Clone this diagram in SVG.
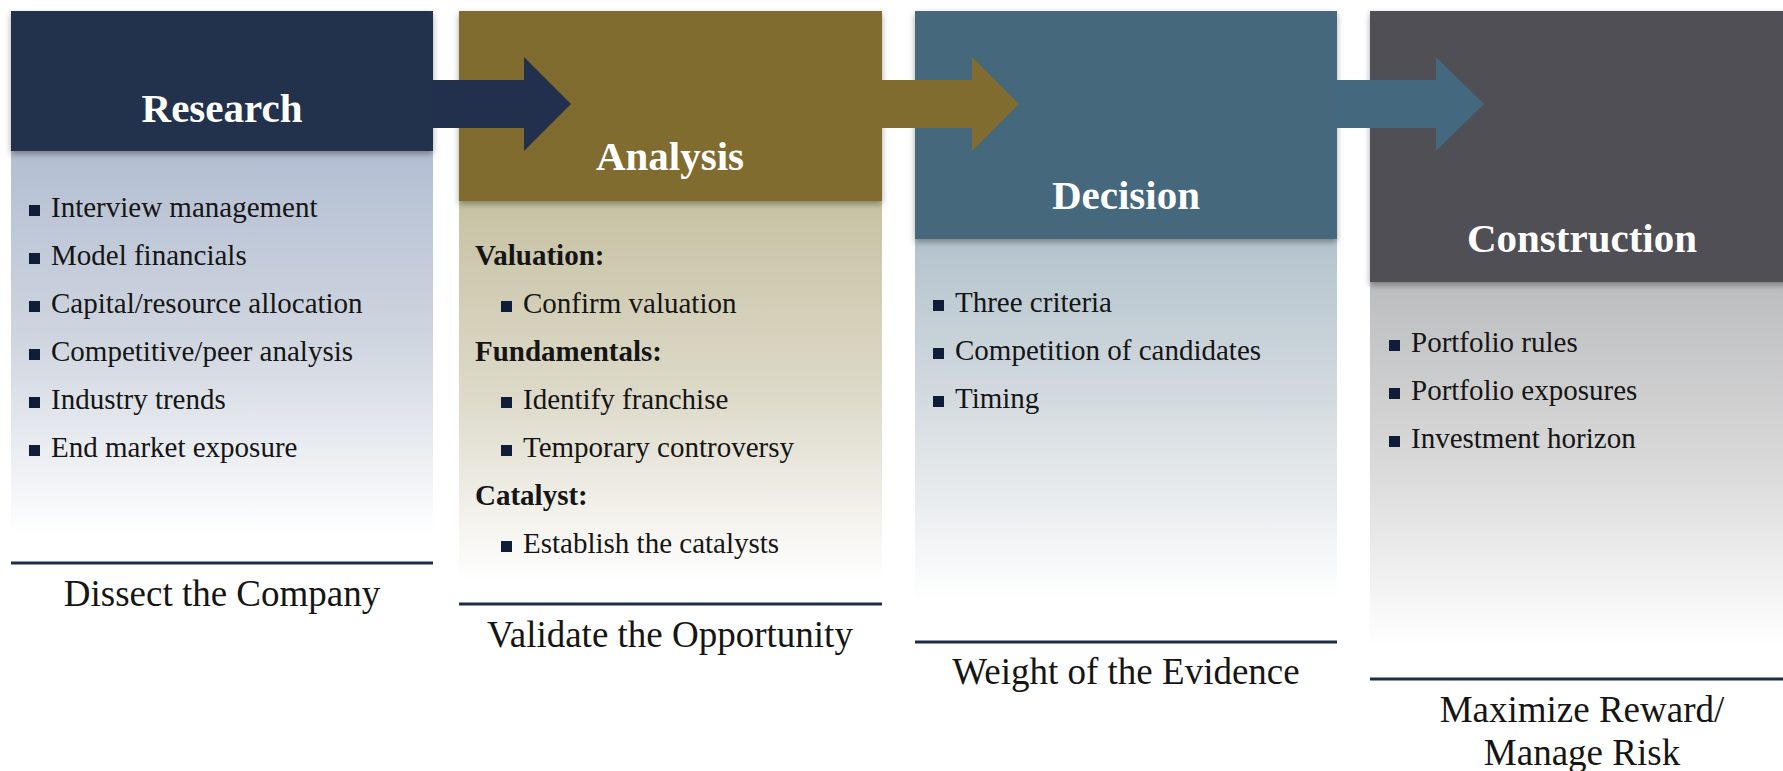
<svg xmlns="http://www.w3.org/2000/svg" width="1783" height="771" viewBox="0 0 1783 771">
<style>
.title{font-family:"Liberation Serif","Times New Roman",serif;font-weight:bold;font-size:41px;fill:#ffffff;text-anchor:middle}
.item{font-family:"Liberation Serif","Times New Roman",serif;font-size:29px;fill:#151515}
.label{font-family:"Liberation Serif","Times New Roman",serif;font-size:29px;font-weight:bold;fill:#151515}
.cap{font-family:"Liberation Serif","Times New Roman",serif;font-size:37px;fill:#151515;text-anchor:middle}
.bul{fill:#0f1d38}
.rule{stroke:#1f2c48;stroke-width:3}
</style>
<defs>
<filter id="sh" x="-5%" y="-5%" width="110%" height="115%">
<feDropShadow dx="0" dy="3" stdDeviation="3" flood-color="#000" flood-opacity="0.35"/>
</filter>
<filter id="bsh" x="-5%" y="-5%" width="110%" height="110%">
<feDropShadow dx="0" dy="0" stdDeviation="3" flood-color="#000" flood-opacity="0.12"/>
</filter>
<linearGradient id="gR" x1="0" y1="0" x2="0" y2="1">
<stop offset="0" stop-color="#b2bed2"/><stop offset="0.5" stop-color="#d0d6e0"/><stop offset="1" stop-color="#ffffff"/>
</linearGradient>
<linearGradient id="gA" x1="0" y1="0" x2="0" y2="1">
<stop offset="0" stop-color="#c7c2a3"/><stop offset="0.5" stop-color="#dcd9c8"/><stop offset="1" stop-color="#ffffff"/>
</linearGradient>
<linearGradient id="gD" x1="0" y1="0" x2="0" y2="1">
<stop offset="0" stop-color="#b3c3cd"/><stop offset="0.5" stop-color="#d8dee2"/><stop offset="1" stop-color="#ffffff"/>
</linearGradient>
<linearGradient id="gC" x1="0" y1="0" x2="0" y2="1">
<stop offset="0" stop-color="#bcbdbe"/><stop offset="0.5" stop-color="#d9d9da"/><stop offset="1" stop-color="#ffffff"/>
</linearGradient>
</defs>

<g id="research">
<rect x="11" y="151" width="422" height="385" fill="url(#gR)"/>
<rect x="11" y="11" width="422" height="140" fill="#22304d" filter="url(#sh)"/>
<text class="title" x="222" y="122">Research</text>
<rect class="bul" x="29" y="205" width="11" height="11"/><text class="item" x="51" y="217">Interview management</text>
<rect class="bul" x="29" y="253" width="11" height="11"/><text class="item" x="51" y="265">Model financials</text>
<rect class="bul" x="29" y="301" width="11" height="11"/><text class="item" x="51" y="313">Capital/resource allocation</text>
<rect class="bul" x="29" y="349" width="11" height="11"/><text class="item" x="51" y="361">Competitive/peer analysis</text>
<rect class="bul" x="29" y="397" width="11" height="11"/><text class="item" x="51" y="409">Industry trends</text>
<rect class="bul" x="29" y="445" width="11" height="11"/><text class="item" x="51" y="457">End market exposure</text>
<line class="rule" x1="11" y1="563" x2="433" y2="563"/>
<text class="cap" x="222" y="606">Dissect the Company</text>
</g>

<g id="analysis">
<rect x="459" y="201" width="423" height="382" fill="url(#gA)"/>
<rect x="459" y="11" width="423" height="190" fill="#7f6c2e" filter="url(#sh)"/>
<text class="title" x="670" y="170">Analysis</text>
<text class="label" x="475" y="265">Valuation:</text>
<rect class="bul" x="501" y="301" width="11" height="11"/><text class="item" x="523" y="313">Confirm valuation</text>
<text class="label" x="475" y="361">Fundamentals:</text>
<rect class="bul" x="501" y="397" width="11" height="11"/><text class="item" x="523" y="409">Identify franchise</text>
<rect class="bul" x="501" y="445" width="11" height="11"/><text class="item" x="523" y="457">Temporary controversy</text>
<text class="label" x="475" y="505">Catalyst:</text>
<rect class="bul" x="501" y="541" width="11" height="11"/><text class="item" x="523" y="553">Establish the catalysts</text>
<line class="rule" x1="459" y1="604" x2="882" y2="604"/>
<text class="cap" x="670" y="647">Validate the Opportunity</text>
</g>

<g id="decision">
<rect x="915" y="239" width="422" height="364" fill="url(#gD)"/>
<rect x="915" y="11" width="422" height="228" fill="#44687d" filter="url(#sh)"/>
<text class="title" x="1126" y="209">Decision</text>
<rect class="bul" x="933" y="300" width="11" height="11"/><text class="item" x="955" y="312">Three criteria</text>
<rect class="bul" x="933" y="348" width="11" height="11"/><text class="item" x="955" y="360">Competition of candidates</text>
<rect class="bul" x="933" y="396" width="11" height="11"/><text class="item" x="955" y="408">Timing</text>
<line class="rule" x1="915" y1="642" x2="1337" y2="642"/>
<text class="cap" x="1126" y="684">Weight of the Evidence</text>
</g>

<g id="construction">
<rect x="1370" y="282" width="422" height="364" fill="url(#gC)"/>
<rect x="1370" y="11" width="422" height="271" fill="#4f5055" filter="url(#sh)"/>
<text class="title" x="1582" y="252">Construction</text>
<rect class="bul" x="1389" y="340" width="11" height="11"/><text class="item" x="1411" y="352">Portfolio rules</text>
<rect class="bul" x="1389" y="388" width="11" height="11"/><text class="item" x="1411" y="400">Portfolio exposures</text>
<rect class="bul" x="1389" y="436" width="11" height="11"/><text class="item" x="1411" y="448">Investment horizon</text>
<line class="rule" x1="1370" y1="679" x2="1783" y2="679"/>
<text class="cap" x="1582" y="722">Maximize Reward/</text>
<text class="cap" x="1582" y="765">Manage Risk</text>
</g>

<g id="connectors">
<polygon points="433,80 524,80 524,57 571,104 524,151 524,128 433,128" fill="#22304d"/>
<polygon points="882,80 972,80 972,57 1019,104 972,151 972,128 882,128" fill="#7f6c2e"/>
<polygon points="1337,80 1436,80 1436,57 1484,104 1436,151 1436,128 1337,128" fill="#44687d"/>
</g>
</svg>
